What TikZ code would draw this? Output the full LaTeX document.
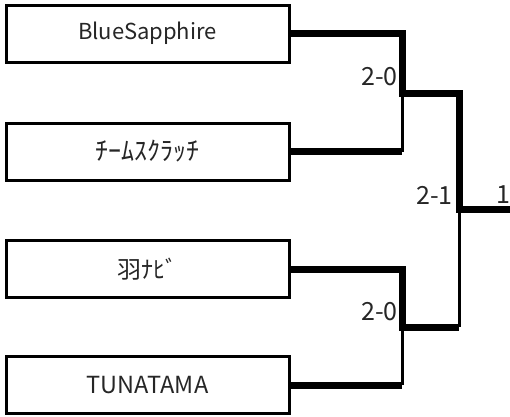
\documentclass[tikz,border=0pt]{standalone}
\usepackage{fontspec}
\setmainfont{Noto Sans CJK JP}
\begin{document}
\begin{tikzpicture}[x=1pt,y=-1pt,
  team/.style={draw=black,line width=3pt,minimum width=283pt,minimum height=57pt,inner sep=0pt,fill=white,text=black!85},
  win/.style={line width=7pt},
  lose/.style={line width=3pt},
  score/.style={anchor=east,inner sep=0pt,text=black!85,font=\fontsize{25}{25}\selectfont}]
\useasboundingbox (0,0) rectangle (510,416);
\node[team,font=\fontsize{22}{22}\selectfont] (b1) at (147.5,33.5) {BlueSapphire};
\node[team,font=\fontsize{26}{26}\selectfont] (b2) at (147.5,151.5) {ﾁｰﾑｽｸﾗｯﾁ};
\node[team,font=\fontsize{24}{24}\selectfont] (b3) at (147.5,269) {羽ﾅﾋﾞ};
\node[team,font=\fontsize{23.5}{23.5}\selectfont] (b4) at (147.5,385) {TUNATAMA};
\coordinate (s1) at (402,93);
\coordinate (s2) at (402,327);
\coordinate (f) at (459,209);
\coordinate (out) at (510,209);
\draw[win] (b1.east) -| (s1) -- (s1 -| f) -- (f) -- (out);
\draw[win] (b2.east) -- (b2.east -| s1);
\draw[lose] (b2.east -| s1) -- (s1);
\draw[win] (b3.east) -| (s2) -- (s2 -| f);
\draw[lose] (s2 -| f) -- (f);
\draw[win] (b4.east) -- (b4.east -| s2);
\draw[lose] (b4.east -| s2) -- (s2);
\node[score] (r1) at (398,77) {2-0};
\node[score] (r2) at (398,312) {2-0};
\node[score] (r3) at (453,195) {2-1};
\node[score,anchor=center] (r4) at (503,195) {1};
\end{tikzpicture}
\end{document}
